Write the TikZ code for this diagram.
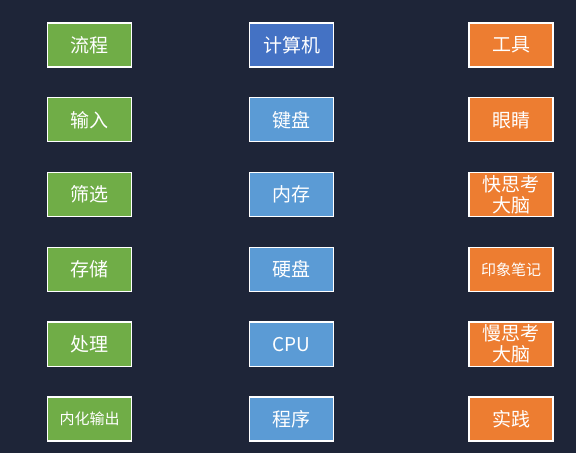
\documentclass[tikz,border=0pt]{standalone}
\usepackage{fontspec}
\setmainfont{Noto Sans CJK SC}
\usepackage{tikz}

\definecolor{bgnavy}{HTML}{1E2538}
\definecolor{flowgreen}{HTML}{70AD47}
\definecolor{pcblue}{HTML}{4472C4}
\definecolor{partblue}{HTML}{5B9BD5}
\definecolor{toolorange}{HTML}{ED7D31}

\begin{document}
\begin{tikzpicture}[x=1pt, y=1pt, node distance=74.8pt,
    box/.style={draw=white, line width=1.4pt, text=white, minimum width=84pt,
        minimum height=44pt, inner sep=0pt, align=center,
        font=\fontsize{19}{21}\selectfont},
    small/.style={font=\fontsize{15}{17}\selectfont},
    flow/.style={box, fill=flowgreen},
    part/.style={box, fill=partblue},
    tool/.style={box, fill=toolorange}]
    \fill [bgnavy] (0,0) rectangle (576,453);
    \useasboundingbox (0,0) rectangle (576,453);

    % Left column: the process
    \node [flow] (liucheng) at (89.5,408) {流程};
    \node [flow, below of=liucheng] (shuru)  {输入};
    \node [flow, below of=shuru]    (shaixuan) {筛选};
    \node [flow, below of=shaixuan] (cunchu) {存储};
    \node [flow, below of=cunchu]   (chuli)  {处理};
    \node [flow, small, below of=chuli] (neihua) {内化输出};

    % Middle column: the computer
    \node [part, fill=pcblue] (jisuanji) at (291.5,408) {计算机};
    \node [part, below of=jisuanji] (jianpan) {键盘};
    \node [part, below of=jianpan]  (neicun)  {内存};
    \node [part, below of=neicun]   (yingpan) {硬盘};
    \node [part, below of=yingpan]  (cpu)     {CPU};
    \node [part, below of=cpu]      (chengxu) {程序};

    % Right column: the tools
    \node [tool] (gongju) at (511,408) {工具};
    \node [tool, below of=gongju]  (yanjing) {眼睛};
    \node [tool, below of=yanjing] (kuai)    {快思考\\大脑};
    \node [tool, small, below of=kuai] (yinxiang) {印象笔记};
    \node [tool, below of=yinxiang] (man)    {慢思考\\大脑};
    \node [tool, below of=man]     (shijian) {实践};
\end{tikzpicture}
\end{document}
